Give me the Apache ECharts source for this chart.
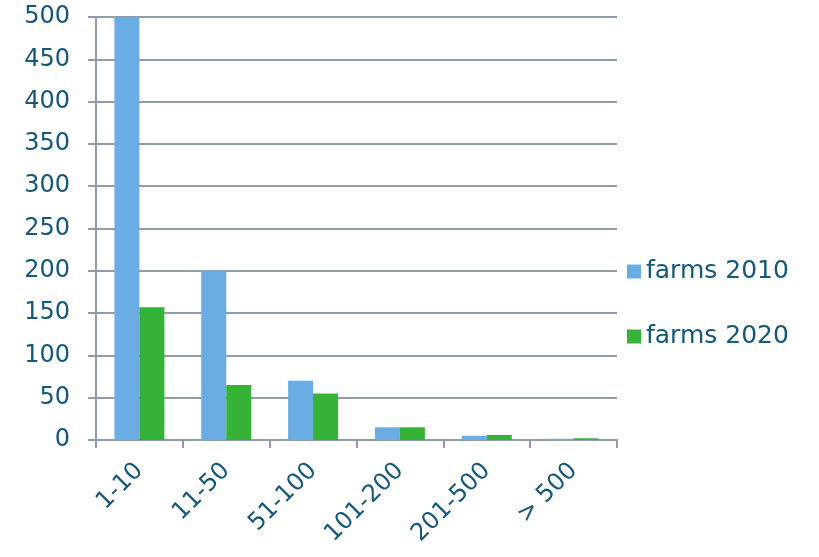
<!DOCTYPE html>
<html>
<head>
<meta charset="utf-8">
<script src="https://cdn.jsdelivr.net/npm/echarts@6/dist/echarts.min.js"></script>
<style>
  html, body { margin: 0; padding: 0; background: #fff; }
  #chart { width: 819px; height: 557px; }
</style>
</head>
<body>
<div id="chart"></div>
<script>
// farm size classes
const categories = ['1-10', '11-50', '51-100', '101-200', '201-500', '> 500'];
const farms2010 = [500, 200, 70, 15, 5, 1.5];
const farms2020 = [157, 65, 55, 15, 6, 2];
const yTicks = { min: 0, max: 500, interval: 50 };

const textColor = '#14587a';
const lineColor = '#8e9cab';
const fontFam = '"DejaVu Sans", Verdana, sans-serif';

let myChart = echarts.init(document.getElementById('chart'));
let option = {
  animation: false,
  grid: { left: 96, right: 202, top: 17, bottom: 117, containLabel: false },
  legend: {
    orient: 'vertical',
    left: 622,
    top: 254,
    itemWidth: 14,
    itemHeight: 14,
    itemGap: 40,
    icon: 'rect',
    textStyle: { fontSize: 25, color: textColor, fontFamily: fontFam },
    data: ['farms 2010', 'farms 2020']
  },
  xAxis: {
    type: 'category',
    data: categories,
    axisLine: { show: true, lineStyle: { color: lineColor, width: 2 } },
    axisTick: { show: true, length: 8, lineStyle: { color: lineColor, width: 2 } },
    axisLabel: {
      rotate: 45, fontSize: 24, color: textColor, fontFamily: fontFam, margin: 27
    }
  },
  yAxis: {
    type: 'value',
    min: yTicks.min,
    max: yTicks.max,
    interval: yTicks.interval,
    axisLine: { show: true, lineStyle: { color: lineColor, width: 2 } },
    axisTick: { show: true, length: 8, lineStyle: { color: lineColor, width: 2 } },
    axisLabel: { fontSize: 24, color: textColor, fontFamily: fontFam, margin: 26 },
    splitLine: { show: true, lineStyle: { color: lineColor, width: 2 } }
  },
  series: [
    {
      name: 'farms 2010',
      type: 'bar',
      data: farms2010,
      barWidth: 25,
      barGap: '0%',
      itemStyle: { color: '#6aade4' }
    },
    {
      name: 'farms 2020',
      type: 'bar',
      data: farms2020,
      barWidth: 25,
      barGap: '0%',
      itemStyle: { color: '#36b336' }
    }
  ]
};
myChart.setOption(option);
</script>
</body>
</html>
